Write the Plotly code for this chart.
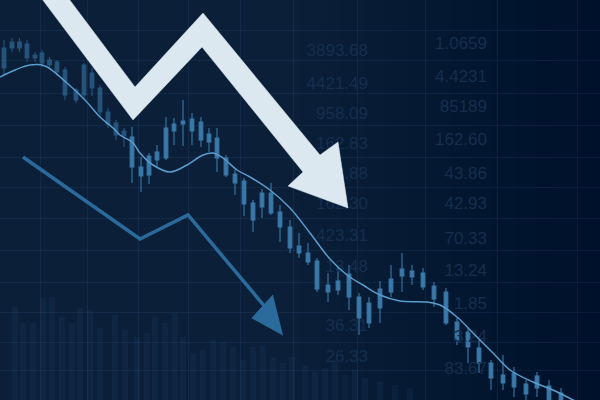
import plotly.graph_objects as go

# ---------------- data ----------------
candle_x = [4, 12, 19.5, 27, 35, 42, 49.5, 57, 65, 76, 84, 92, 100, 108, 116, 124,
            132, 141, 149, 157, 166, 174, 183, 192, 201, 209, 217, 226, 235, 244, 253,
            262, 271, 280, 290, 299, 308, 317, 328, 338, 349, 359, 369, 380, 391, 402,
            412, 423, 434, 446, 457, 468, 479, 491, 503, 514, 526, 537, 549, 561]
candle_open = [352, 358, 358, 356, 345, 347, 340, 338, 330, 310, 335, 327, 312, 288, 277, 269,
               263, 233, 244, 248, 272, 276, 279, 281, 278, 266, 262, 242, 226, 219, 197,
               207, 207, 188, 173, 154, 147, 139, 115, 119, 126, 103, 97, 111, 121, 131,
               129, 127, 114, 108, 78, 68, 52, 37, 25, 27, 16, 24, 14, 7]
candle_close = [332, 352, 352, 342, 342, 337, 335, 328, 305, 300, 305, 312, 288, 276, 265, 264,
                233, 224, 225, 240, 242, 269, 276, 269, 260, 258, 242, 225, 217, 196, 180,
                193, 187, 173, 152, 147, 138, 111, 108, 110, 103, 82, 77, 92, 108, 124,
                123, 113, 101, 77, 60, 53, 37, 22, 17, 13, 6, 12, 0, -5]
candle_high = [360, 362, 362, 360, 348, 350, 343, 340, 333, 312, 337, 332, 315, 292, 280, 272,
               273, 243, 247, 255, 283, 282, 300, 287, 283, 272, 272, 245, 230, 222, 200,
               211, 217, 195, 180, 167, 157, 142, 127, 132, 135, 107, 103, 119, 135, 147,
               135, 132, 118, 112, 82, 72, 60, 40, 45, 33, 20, 28, 20, 12]
candle_low = [325, 348, 348, 338, 338, 333, 332, 324, 300, 297, 300, 304, 284, 272, 260, 253,
              217, 208, 216, 232, 240, 255, 254, 255, 253, 248, 228, 223, 205, 184, 168,
              182, 185, 158, 147, 142, 135, 108, 98, 105, 90, 65, 72, 77, 103, 108,
              115, 110, 93, 75, 55, 37, 27, 10, 10, 3, 0, 3, -5, -10]

ma_x = [0, 15, 30, 45, 67, 85, 100, 113, 120, 133, 140, 153, 170, 187, 203, 213, 223,
        237, 250, 270, 290, 310, 330, 347, 363, 380, 400, 427, 440, 457, 473, 493,
        510, 533, 553, 573, 600]
ma_y = [323, 330, 335, 334, 317, 300, 283, 272, 265, 257, 247, 235, 228, 235, 245, 247, 242,
        230, 223, 210, 192, 167, 141, 125, 115, 105, 99, 98, 95, 83, 67, 47,
        30, 18, 10, 0, -15]

vol_x = [15, 23, 33, 43, 52, 62, 72, 80, 90, 100, 115, 125, 137, 147, 155, 165, 175, 183,
         193, 203, 213, 223, 233, 243, 253, 263, 273, 283, 292, 305, 315, 325, 335, 345,
         355, 365, 380, 395, 410]
vol_v = [93, 77, 77, 102, 103, 83, 77, 92, 90, 72, 85, 70, 63, 67, 83, 77, 87, 63,
         47, 50, 60, 58, 53, 40, 53, 55, 43, 37, 43, 35, 28, 32, 40, 25,
         30, 22, 18, 15, 12]

big_arrow_x = [39, 133, 202, 303, 288, 348, 338, 320, 203, 135, 66]
big_arrow_y = [405, 280, 353, 228, 214, 192, 258, 245, 387, 313, 405]

small_line_x = [23, 140, 188, 266]
small_line_y = [243, 161, 185, 92]
small_head_x = [283, 252, 273]
small_head_y = [65, 82, 105]

col1_labels = ["3893.68", "4421.49", "958.09", "162.83", "43.88", "162.30", "423.31",
               "13.48", "36.31", "26.33"]
col1_y = [348, 315, 285, 255, 225, 195, 163, 132, 73, 42]
col2_labels = ["1.0659", "4.4231", "85189", "162.60", "43.86", "42.93", "70.33",
               "13.24", "1.85", "3.24", "83.67"]
col2_y = [355, 322, 292, 259, 225, 195, 160, 128, 95, 62, 30]

grid_x = [40, 87, 138, 188, 240, 293, 357, 425, 497, 577]
grid_y = [370, 340, 307, 275, 243, 213, 182, 150, 118, 88, 58, 30]

# ---------------- figure ----------------
BG = "#0b1f39"
CANDLE = "#3a78a8"
TXT = "#152e4c"

fig = go.Figure()

# background numbers (drawn first so they sit under everything)
fig.add_trace(go.Scatter(x=[368] * len(col1_labels), y=col1_y, mode="text",
                         text=col1_labels, textposition="middle left",
                         textfont=dict(family="Liberation Sans", size=17, color=TXT),
                         hoverinfo="skip"))
fig.add_trace(go.Scatter(x=[487] * len(col2_labels), y=col2_y, mode="text",
                         text=col2_labels, textposition="middle left",
                         textfont=dict(family="Liberation Sans", size=17, color=TXT),
                         hoverinfo="skip"))

fig.add_trace(go.Bar(x=vol_x, y=vol_v, width=6,
                     marker=dict(color="rgba(50,100,150,0.11)", line=dict(width=0)),
                     hoverinfo="skip"))

# faded left candles + brighter right candles
split = 16
for sl, op in [(slice(0, split), 0.6), (slice(split, None), 1.0)]:
    fig.add_trace(go.Candlestick(
        x=candle_x[sl], open=candle_open[sl], high=candle_high[sl],
        low=candle_low[sl], close=candle_close[sl],
        increasing=dict(line=dict(color=CANDLE, width=1.1), fillcolor=CANDLE),
        decreasing=dict(line=dict(color=CANDLE, width=1.1), fillcolor=CANDLE),
        whiskerwidth=0, opacity=op, hoverinfo="skip"))

fig.add_trace(go.Scatter(x=ma_x, y=ma_y, mode="lines",
                         line=dict(color="#5a9ccc", width=1.5, shape="spline", smoothing=1.0),
                         hoverinfo="skip"))

# small blue arrow
fig.add_trace(go.Scatter(x=small_line_x, y=small_line_y, mode="lines",
                         line=dict(color="#2a6b9c", width=3.5), hoverinfo="skip"))
fig.add_trace(go.Scatter(x=small_head_x, y=small_head_y, mode="lines", fill="toself",
                         fillcolor="#2a6b9c", line=dict(color="#2a6b9c", width=1),
                         hoverinfo="skip"))

# big white arrow
fig.add_trace(go.Scatter(x=big_arrow_x, y=big_arrow_y, mode="lines", fill="toself",
                         fillcolor="#dbe8f0", line=dict(color="#dbe8f0", width=0.5),
                         hoverinfo="skip"))

# subtle smooth vignette: gradually darker toward the right
shapes = []
steps = 14
for i in range(steps):
    x0 = 0.5 + 0.5 * i / steps
    shapes.append(dict(type="rect", xref="paper", yref="paper", x0=x0, x1=1, y0=0, y1=1,
                       fillcolor="rgba(0,8,22,0.03)", line=dict(width=0), layer="below"))

fig.update_layout(
    width=600, height=400, margin=dict(l=0, r=0, t=0, b=0),
    paper_bgcolor=BG, plot_bgcolor=BG, showlegend=False,
    boxgap=0.25, shapes=shapes, hovermode=False,
    xaxis=dict(range=[0, 600], tickvals=grid_x, showticklabels=False, zeroline=False,
               showgrid=True, gridcolor="rgba(70,120,170,0.12)", gridwidth=1,
               rangeslider=dict(visible=False), fixedrange=True),
    yaxis=dict(range=[0, 400], tickvals=grid_y, showticklabels=False, zeroline=False,
               showgrid=True, gridcolor="rgba(70,120,170,0.12)", gridwidth=1,
               fixedrange=True),
)

fig.write_html("out.html", config=dict(displayModeBar=False),
               post_script="document.body.style.margin='0';document.body.style.overflow='hidden';")
